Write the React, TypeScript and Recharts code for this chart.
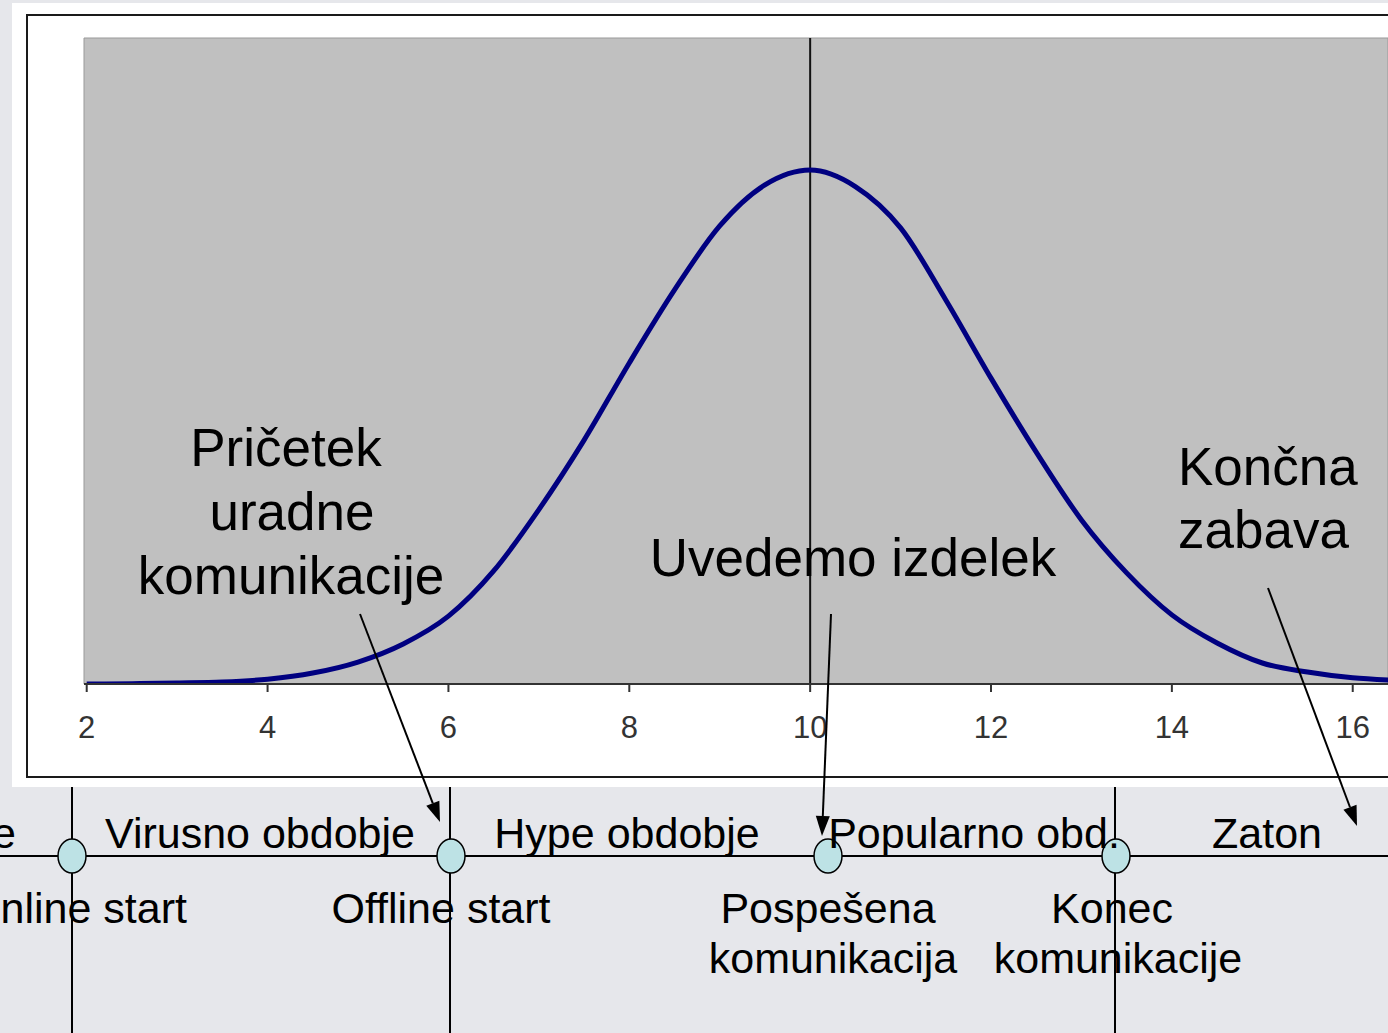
import { LineChart, Line, XAxis, YAxis, ReferenceLine, ReferenceArea } from 'recharts'

// time axis (weeks) and the adoption curve
const weeks = [2, 2.5, 3, 3.5, 4, 4.5, 5, 5.5, 6, 6.5, 7, 7.5, 8, 8.5, 9, 9.5, 10, 10.5, 11, 11.5, 12, 12.5, 13, 13.5, 14, 14.5, 15, 15.5, 16, 16.4]
const adoption = [0, 0.0001, 0.0003, 0.0006, 0.0015, 0.0034, 0.0068, 0.0124, 0.021, 0.035, 0.054, 0.0755, 0.0994, 0.122, 0.1418, 0.1545, 0.1591, 0.154, 0.1412, 0.1189, 0.0947, 0.0718, 0.0508, 0.0344, 0.0214, 0.0127, 0.0065, 0.0037, 0.0019, 0.0012]
const xTicks = [2, 4, 6, 8, 10, 12, 14, 16]

const phases = ['e', 'Virusno obdobje', 'Hype obdobje', 'Popularno obd.', 'Zaton']
const milestones = ['Online start', 'Offline start', 'Pospešena', 'komunikacija', 'Konec', 'komunikacije']

const data = weeks.map((x, i) => ({ x, y: adoption[i] }))

const FONT = '"Liberation Sans", Arial, sans-serif'

function Arrow({ x1, y1, x2, y2 }: { x1: number; y1: number; x2: number; y2: number }) {
  const a = Math.atan2(y2 - y1, x2 - x1)
  const len = 20
  const w = 7
  const bx = x2 - len * Math.cos(a)
  const by = y2 - len * Math.sin(a)
  const px = -Math.sin(a) * w
  const py = Math.cos(a) * w
  return (
    <g>
      <line x1={x1} y1={y1} x2={bx} y2={by} stroke="#000" strokeWidth={2} />
      <polygon points={`${x2},${y2} ${bx + px},${by + py} ${bx - px},${by - py}`} fill="#000" />
    </g>
  )
}

export default function App() {
  return (
    <div style={{ position: 'fixed', left: 0, top: 0, width: 1388, height: 1033, overflow: 'hidden', background: '#e6e7eb' }}>
      <div style={{ position: 'absolute', left: 12, top: 3, width: 1400, height: 784, background: '#fff' }} />
      <div style={{ position: 'absolute', left: 26, top: 14, width: 1400, height: 760, border: '2px solid #1a1a1a' }} />
      <div style={{ position: 'absolute', left: 0, top: 0 }}>
        <LineChart width={1388} height={790} data={data} margin={{ top: 38, left: 84, right: 0, bottom: 46 }}>
          <XAxis
            type="number"
            dataKey="x"
            domain={[1.97, 16.39]}
            ticks={xTicks}
            allowDataOverflow
            height={60}
            tickSize={8}
            tickMargin={24}
            axisLine={{ stroke: '#333', strokeWidth: 2 }}
            tickLine={{ stroke: '#333', strokeWidth: 2 }}
            tick={{ fontSize: 31, fill: '#333', fontFamily: FONT }}
          />
          <YAxis hide domain={[0, 0.2]} allowDataOverflow />
          <ReferenceArea x1={1.97} x2={16.39} y1={0} y2={0.2} fill="#c0c0c0" fillOpacity={1} stroke="#999" />
          <ReferenceLine x={10} stroke="#111" strokeWidth={2} />
          <Line type="monotone" dataKey="y" stroke="#000080" strokeWidth={5} dot={false} isAnimationActive={false} />
        </LineChart>
      </div>
      <svg width={1388} height={1033} style={{ position: 'absolute', left: 0, top: 0, pointerEvents: 'none' }} fontFamily={FONT}>
        {/* annotations on the curve */}
        <g fontSize={53} fill="#000" textAnchor="middle">
          <text x={286} y={466}>Pričetek</text>
          <text x={292} y={530}>uradne</text>
          <text x={291} y={594}>komunikacije</text>
          <text x={853} y={576}>Uvedemo izdelek</text>
          <text x={1178} y={485} textAnchor="start">Končna</text>
          <text x={1178} y={548} textAnchor="start">zabava</text>
        </g>

        {/* timeline */}
        <line x1={0} y1={856} x2={1388} y2={856} stroke="#000" strokeWidth={2} />
        {[72, 450, 1115].map((x) => (
          <line key={x} x1={x} y1={787} x2={x} y2={1033} stroke="#000" strokeWidth={2} />
        ))}
        {[72, 451, 828, 1116].map((x) => (
          <ellipse key={x} cx={x} cy={856} rx={14} ry={17} fill="#bde2e5" stroke="#000" strokeWidth={1.5} />
        ))}
        <g fontSize={43} fill="#000">
          <text x={16} y={848} textAnchor="end">{phases[0]}</text>
          <text x={260} y={848} textAnchor="middle">{phases[1]}</text>
          <text x={627} y={848} textAnchor="middle">{phases[2]}</text>
          <text x={974} y={848} textAnchor="middle">{phases[3]}</text>
          <text x={1267} y={848} textAnchor="middle">{phases[4]}</text>
          <text x={187} y={923} textAnchor="end">{milestones[0]}</text>
          <text x={441} y={923} textAnchor="middle">{milestones[1]}</text>
          <text x={828} y={923} textAnchor="middle">{milestones[2]}</text>
          <text x={833} y={973} textAnchor="middle">{milestones[3]}</text>
          <text x={1112} y={923} textAnchor="middle">{milestones[4]}</text>
          <text x={1118} y={973} textAnchor="middle">{milestones[5]}</text>
        </g>

        <Arrow x1={360} y1={614} x2={440} y2={822} />
        <Arrow x1={831} y1={614} x2={822} y2={836} />
        <Arrow x1={1268} y1={588} x2={1357} y2={826} />
      </svg>
    </div>
  )
}
